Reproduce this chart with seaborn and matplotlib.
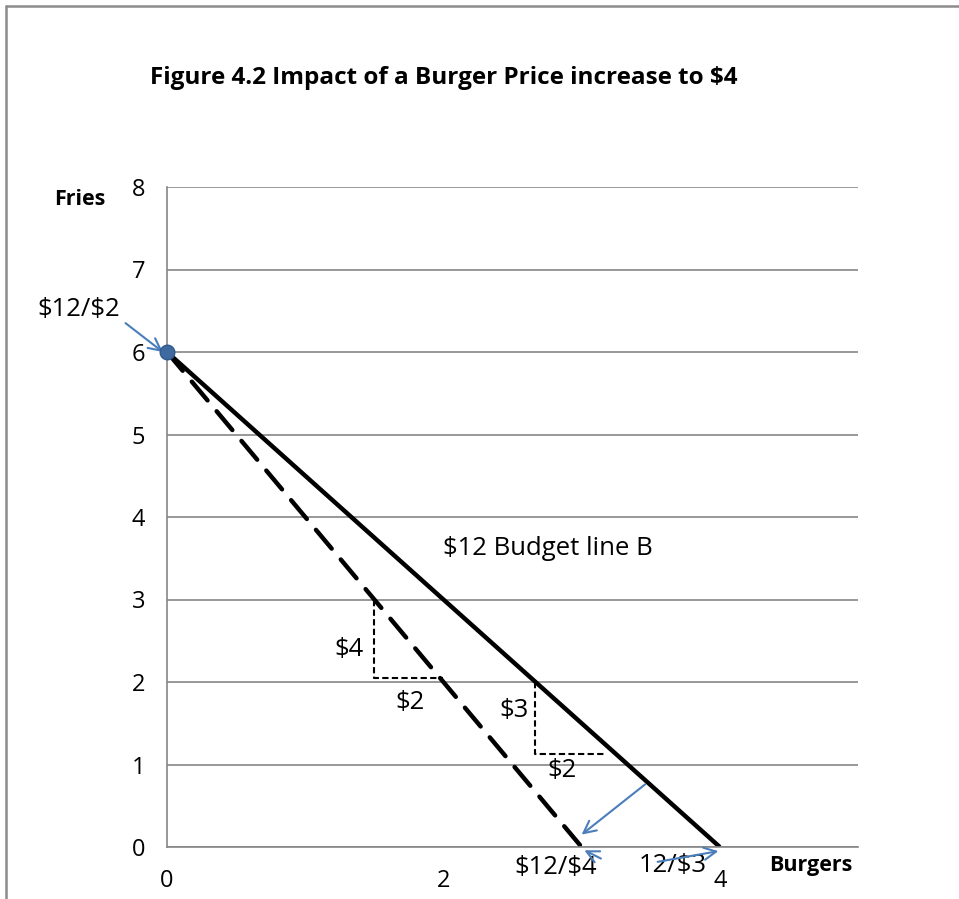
import numpy as np
import pandas as pd
import matplotlib
matplotlib.use("Agg")
import matplotlib.pyplot as plt
from matplotlib.lines import Line2D
import seaborn as sns

# budget line B ($12, burgers $3, fries $2) and new line after burger price goes to $4
burgers_b = [0, 4]
fries_b = [6, 0]
burgers_new = [0, 3]
fries_new = [6, 0]

# slope triangles
tri_new_x = [1.5, 1.5, 2.0]
tri_new_y = [3.0, 2.05, 2.05]
tri_b_x = [2.66, 2.66, 3.18]
tri_b_y = [2.0, 1.13, 1.13]

x_ticks = [0, 2, 4]
y_ticks = [0, 1, 2, 3, 4, 5, 6, 7, 8]

sns.set_style("white")
plt.rcParams['font.family'] = ['Open Sans', 'DejaVu Sans']
plt.rcParams['text.parse_math'] = False
plt.rcParams['text.color'] = 'black'
plt.rcParams['xtick.labelcolor'] = 'black'
plt.rcParams['ytick.labelcolor'] = 'black'

fig = plt.figure(figsize=(9.59, 8.99), dpi=100)
ax = fig.add_axes([167/959, 1-847/899, (858-167)/959, (847-187)/899])

grid_col = "#868686"
blue = "#4A7EBB"

for yv in y_ticks:
    ax.axhline(yv, color=grid_col, lw=1.2, zorder=0)

sns.lineplot(x=burgers_b, y=fries_b, ax=ax, color="black", lw=3.2,
             estimator=None, sort=False, solid_capstyle="butt")
sns.lineplot(x=burgers_new, y=fries_new, ax=ax, color="black", lw=3.2,
             estimator=None, sort=False, linestyle=(0, (5.5, 3.2)), dash_capstyle="round")
sns.lineplot(x=tri_new_x, y=tri_new_y, ax=ax, color="black", lw=1.5,
             estimator=None, sort=False, linestyle=(0, (3, 1.6)))
sns.lineplot(x=tri_b_x, y=tri_b_y, ax=ax, color="black", lw=1.5,
             estimator=None, sort=False, linestyle=(0, (3, 1.6)))
sns.scatterplot(x=[burgers_b[0]], y=[fries_b[0]], ax=ax, color="#3F6A9F",
                s=110, edgecolor="#2F5A8F", linewidth=1, zorder=5, clip_on=False)

ax.set_xlim(0, 5)
ax.set_ylim(0, 8)
ax.set_xticks(x_ticks)
ax.set_yticks(y_ticks)
ax.tick_params(axis="y", length=6.5, color=grid_col, labelsize=17, pad=9)
ax.tick_params(axis="x", length=6, color=grid_col, labelsize=17, pad=10)
ax.set_xlabel("")
ax.set_ylabel("")
for s in ["top", "right"]:
    ax.spines[s].set_visible(False)
for s in ["left", "bottom"]:
    ax.spines[s].set_color(grid_col)
    ax.spines[s].set_linewidth(1.2)

fs = 18.5
ax.text(2.0, 3.62, "$12 Budget line B", fontsize=fs, va="center", ha="left")
ax.text(1.32, 2.39, "$4", fontsize=fs, va="center", ha="center")
ax.text(1.76, 1.75, "$2", fontsize=fs, va="center", ha="center")
ax.text(2.51, 1.66, "$3", fontsize=fs, va="center", ha="center")
ax.text(2.86, 0.93, "$2", fontsize=fs, va="center", ha="center")
ax.text(-0.64, 6.51, "$12/$2", fontsize=fs, va="center", ha="center", clip_on=False)
ax.text(2.81, -0.25, "$12/$4", fontsize=fs, va="center", ha="center", clip_on=False)
ax.text(3.66, -0.23, "12/$3", fontsize=fs, va="center", ha="center", clip_on=False)
ax.text(4.66, -0.23, "Burgers", fontsize=15.5, fontweight="bold", va="center", ha="center", clip_on=False)
ax.text(-0.63, 7.85, "Fries", fontsize=15.5, fontweight="bold", va="center", ha="center", clip_on=False)

arrow = dict(arrowstyle="->", color=blue, lw=1.5, mutation_scale=22, shrinkA=0, shrinkB=0)
ax.annotate("", xy=(-0.03, 6.0), xytext=(-0.30, 6.35), arrowprops=arrow, annotation_clip=False)
ax.annotate("", xy=(3.0, 0.15), xytext=(3.46, 0.76), arrowprops=arrow, annotation_clip=False)
ax.annotate("", xy=(3.02, -0.04), xytext=(3.14, -0.14), arrowprops=arrow, annotation_clip=False)
ax.annotate("", xy=(3.99, -0.05), xytext=(3.55, -0.18), arrowprops=arrow, annotation_clip=False)

fig.text(444/959, 1-78/899, "Figure 4.2 Impact of a Burger Price increase to $4",
         fontsize=17.5, fontweight="bold", ha="center", va="center")

# outer chart border (left and top only visible)
fig.add_artist(Line2D([6/959, 6/959], [0, 1-6/899], color="#8C8C8C", lw=1.8))
fig.add_artist(Line2D([6/959, 1], [1-6/899, 1-6/899], color="#8C8C8C", lw=1.8))

fig.savefig("out.png", dpi=100)
